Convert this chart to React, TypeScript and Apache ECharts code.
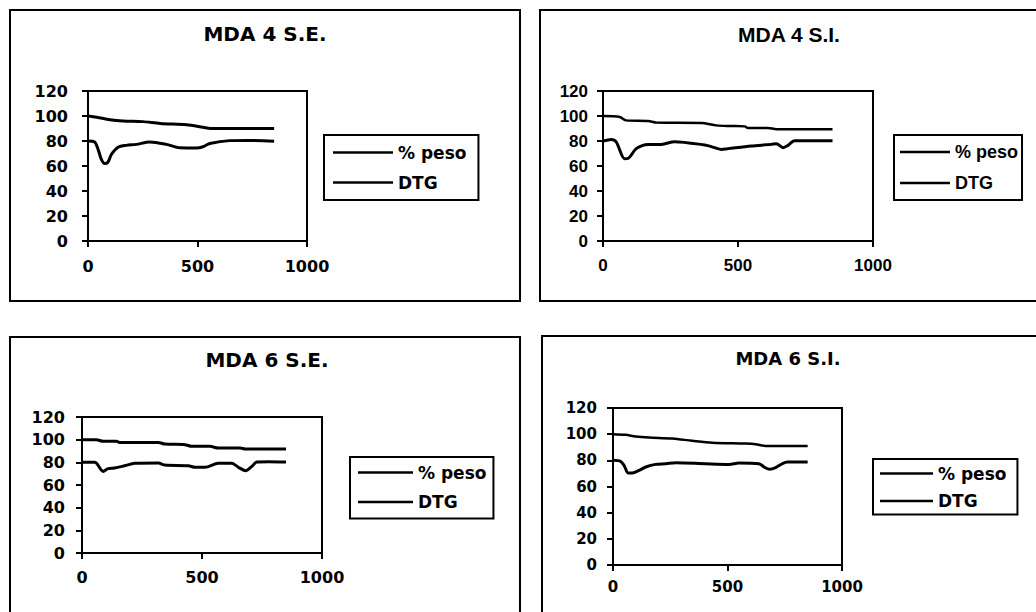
import React, { useEffect, useRef } from "react";
import * as echarts from "echarts";

// ---------- DATA ----------
const seriesNames = ["% peso", "DTG"];
const xTickValues = [0, 500, 1000];
const yTickValues = [0, 20, 40, 60, 80, 100, 120];

// MDA 4 S.E.
const p1PesoT = [0, 40, 100, 160, 250, 330, 450, 525, 560, 650, 850];
const p1Peso = [100, 99, 97, 96, 95.5, 94, 93, 91, 90, 90, 90];
const p1DtgT = [0, 30, 46, 61, 76, 91, 107, 137, 175, 221, 282, 358, 419, 495, 525, 556, 647, 723, 850];
const p1Dtg = [80, 79.2, 73.3, 65.3, 62, 63, 69.3, 75, 76.5, 77.3, 79.2, 77.3, 74.6, 74.4, 75.4, 78, 80.3, 80.5, 79.8];

// MDA 4 S.I.
const p2PesoT = [0, 62, 86, 167, 198, 364, 420, 475, 525, 537, 611, 642, 850];
const p2Peso = [100, 99.2, 96.5, 96, 94.7, 94.4, 92.5, 92, 91.7, 90.4, 90.4, 89.5, 89.5];
const p2DtgT = [0, 31, 49, 80, 93, 123, 167, 216, 265, 377, 401, 438, 463, 549, 623, 642, 667, 685, 710, 850];
const p2Dtg = [80, 81.3, 79.2, 65.9, 66.1, 73.9, 77.3, 77.3, 79.5, 76.8, 75.5, 73.3, 73.9, 76, 77.3, 77.9, 74.7, 76.5, 80.3, 80.3];

// MDA 6 S.E.
const p3PesoT = [0, 60, 88, 143, 157, 318, 345, 429, 457, 533, 568, 659, 680, 850];
const p3Peso = [100, 100, 98.5, 98.5, 97.6, 97.6, 96.1, 95.6, 94.1, 94.1, 92.6, 92.6, 91.7, 91.7];
const p3DtgT = [0, 53, 88, 109, 136, 178, 220, 318, 345, 443, 471, 512, 568, 624, 652, 682, 708, 728, 777, 850];
const p3Dtg = [80, 80, 72, 74.4, 75, 77, 79.1, 79.4, 77.6, 77, 75.6, 75.6, 79.1, 79.1, 75.6, 72.6, 76.4, 80.3, 80.6, 80.3];

// MDA 6 S.I.
const p4PesoT = [0, 55, 99, 157, 259, 346, 434, 579, 623, 666, 850];
const p4Peso = [100, 99.5, 98.2, 97.4, 96.7, 94.9, 93.4, 92.8, 92.3, 91, 91];
const p4DtgT = [0, 33, 48, 67, 84, 114, 143, 186, 230, 274, 404, 507, 550, 637, 664, 684, 710, 739, 761, 850];
const p4Dtg = [80, 79.2, 76.2, 70.3, 70.3, 72.3, 74.9, 76.9, 77.4, 78.2, 77.4, 76.9, 78, 77.4, 74.4, 73.1, 74.4, 77.4, 78.7, 78.7];

const titles = ["MDA 4 S.E.", "MDA 4 S.I.", "MDA 6 S.E.", "MDA 6 S.I."];

const zip = (xs: number[], ys: number[]) => xs.map((x, i) => [x, ys[i]]);

const WIDE = "DejaVu Sans";
const NARROW = "Liberation Sans";

// ---------- LAYOUT ----------
const panels = [
  {
    title: titles[0], font: WIDE, titleSize: 20, titleX: 265, titleY: 34,
    frame: [10, 10, 510, 291],
    grid: { left: 88, top: 91, width: 219, height: 150 },
    tickSize: 16, yMargin: 20, xMargin: 17,
    legend: { left: 324, top: 135, fontSize: 17, itemWidth: 60, itemGap: 13, padding: [9, 12, 9, 9] },
    peso: zip(p1PesoT, p1Peso), dtg: zip(p1DtgT, p1Dtg), pesoW: 3, dtgW: 3,
  },
  {
    title: titles[1], font: NARROW, titleSize: 21, titleX: 789, titleY: 34,
    frame: [540, 10, 520, 291],
    grid: { left: 603, top: 91, width: 270, height: 150 },
    tickSize: 17, yMargin: 15, xMargin: 16,
    legend: { left: 894, top: 135, fontSize: 18, itemWidth: 50, itemGap: 13, padding: [8, 4, 8, 6] },
    peso: zip(p2PesoT, p2Peso), dtg: zip(p2DtgT, p2Dtg), pesoW: 2.5, dtgW: 3,
  },
  {
    title: titles[2], font: WIDE, titleSize: 20, titleX: 267, titleY: 360,
    frame: [10, 337, 510, 300],
    grid: { left: 82, top: 417, width: 240, height: 136 },
    tickSize: 16, yMargin: 17, xMargin: 16,
    legend: { left: 350, top: 457, fontSize: 17, itemWidth: 55, itemGap: 12.6, padding: [7, 7, 8, 8] },
    peso: zip(p3PesoT, p3Peso), dtg: zip(p3DtgT, p3Dtg), pesoW: 3, dtgW: 3,
  },
  {
    title: titles[3], font: WIDE, titleSize: 18, titleX: 788, titleY: 358,
    frame: [542, 336, 520, 300],
    grid: { left: 613, top: 408, width: 229, height: 157 },
    tickSize: 15, yMargin: 16, xMargin: 14,
    legend: { left: 873, top: 459, fontSize: 17, itemWidth: 53, itemGap: 10.4, padding: [6, 11, 5, 7] },
    peso: zip(p4PesoT, p4Peso), dtg: zip(p4DtgT, p4Dtg), pesoW: 2.5, dtgW: 3,
  },
];

function buildOption() {
  const grid: any[] = [];
  const xAxis: any[] = [];
  const yAxis: any[] = [];
  const series: any[] = [];
  const legend: any[] = [];
  const graphic: any[] = [];

  panels.forEach((p, i) => {
    graphic.push({
      type: "rect",
      shape: { x: p.frame[0], y: p.frame[1], width: p.frame[2], height: p.frame[3] },
      style: { fill: "none", stroke: "#000", lineWidth: 2 },
      z: 0,
    });
    graphic.push({
      type: "text",
      x: p.titleX,
      y: p.titleY,
      style: {
        text: p.title,
        fill: "#000",
        fontFamily: p.font,
        fontWeight: "bold",
        fontSize: p.titleSize,
        textAlign: "center",
        textVerticalAlign: "middle",
      },
    });
    grid.push({
      ...p.grid,
      show: true,
      borderColor: "#000",
      borderWidth: 2,
      backgroundColor: "transparent",
      containLabel: false,
    });
    const labelStyle = {
      color: "#000",
      fontFamily: p.font,
      fontWeight: "bold",
      fontSize: p.tickSize,
      formatter: (v: number) => String(v),
    };
    xAxis.push({
      type: "value",
      gridIndex: i,
      min: xTickValues[0],
      max: xTickValues[xTickValues.length - 1],
      interval: xTickValues[1] - xTickValues[0],
      axisLine: { show: true, lineStyle: { color: "#000", width: 2 } },
      axisTick: { show: true, inside: false, length: 6, lineStyle: { color: "#000", width: 2 } },
      splitLine: { show: false },
      axisLabel: { ...labelStyle, margin: p.xMargin, showMinLabel: true, showMaxLabel: true },
    });
    yAxis.push({
      type: "value",
      gridIndex: i,
      min: yTickValues[0],
      max: yTickValues[yTickValues.length - 1],
      interval: yTickValues[1] - yTickValues[0],
      axisLine: { show: true, lineStyle: { color: "#000", width: 2 } },
      axisTick: { show: true, inside: false, length: 6, lineStyle: { color: "#000", width: 2 } },
      splitLine: { show: false },
      axisLabel: { ...labelStyle, margin: p.yMargin, showMinLabel: true, showMaxLabel: true },
    });
    series.push({
      type: "line",
      name: seriesNames[0],
      xAxisIndex: i,
      yAxisIndex: i,
      data: p.peso,
      smooth: 0.3,
      symbol: "none",
      showSymbol: false,
      lineStyle: { color: "#000", width: p.pesoW },
      itemStyle: { color: "#000" },
    });
    series.push({
      type: "line",
      name: seriesNames[1],
      xAxisIndex: i,
      yAxisIndex: i,
      data: p.dtg,
      smooth: 0.3,
      symbol: "none",
      showSymbol: false,
      lineStyle: { color: "#000", width: p.dtgW },
      itemStyle: { color: "#000" },
    });
    legend.push({
      show: true,
      data: seriesNames,
      orient: "vertical",
      left: p.legend.left,
      top: p.legend.top,
      padding: p.legend.padding,
      itemGap: p.legend.itemGap,
      itemWidth: p.legend.itemWidth,
      itemHeight: 2.5,
      icon: "rect",
      borderColor: "#000",
      borderWidth: 2,
      borderRadius: 0,
      backgroundColor: "transparent",
      selectedMode: false,
      textStyle: {
        color: "#000",
        fontFamily: p.font,
        fontWeight: "bold",
        fontSize: p.legend.fontSize,
      },
    });
  });

  return {
    animation: false,
    backgroundColor: "#fff",
    grid,
    xAxis,
    yAxis,
    series,
    legend,
    graphic,
  };
}

export default function App() {
  const ref = useRef<HTMLDivElement>(null);
  useEffect(() => {
    if (!ref.current) return;
    const chart = echarts.init(ref.current, null, { renderer: "svg" });
    chart.setOption(buildOption() as any);
    return () => chart.dispose();
  }, []);
  return (
    <div
      ref={ref}
      style={{ position: "fixed", left: 0, top: 0, width: 1036, height: 612, background: "#fff" }}
    />
  );
}
